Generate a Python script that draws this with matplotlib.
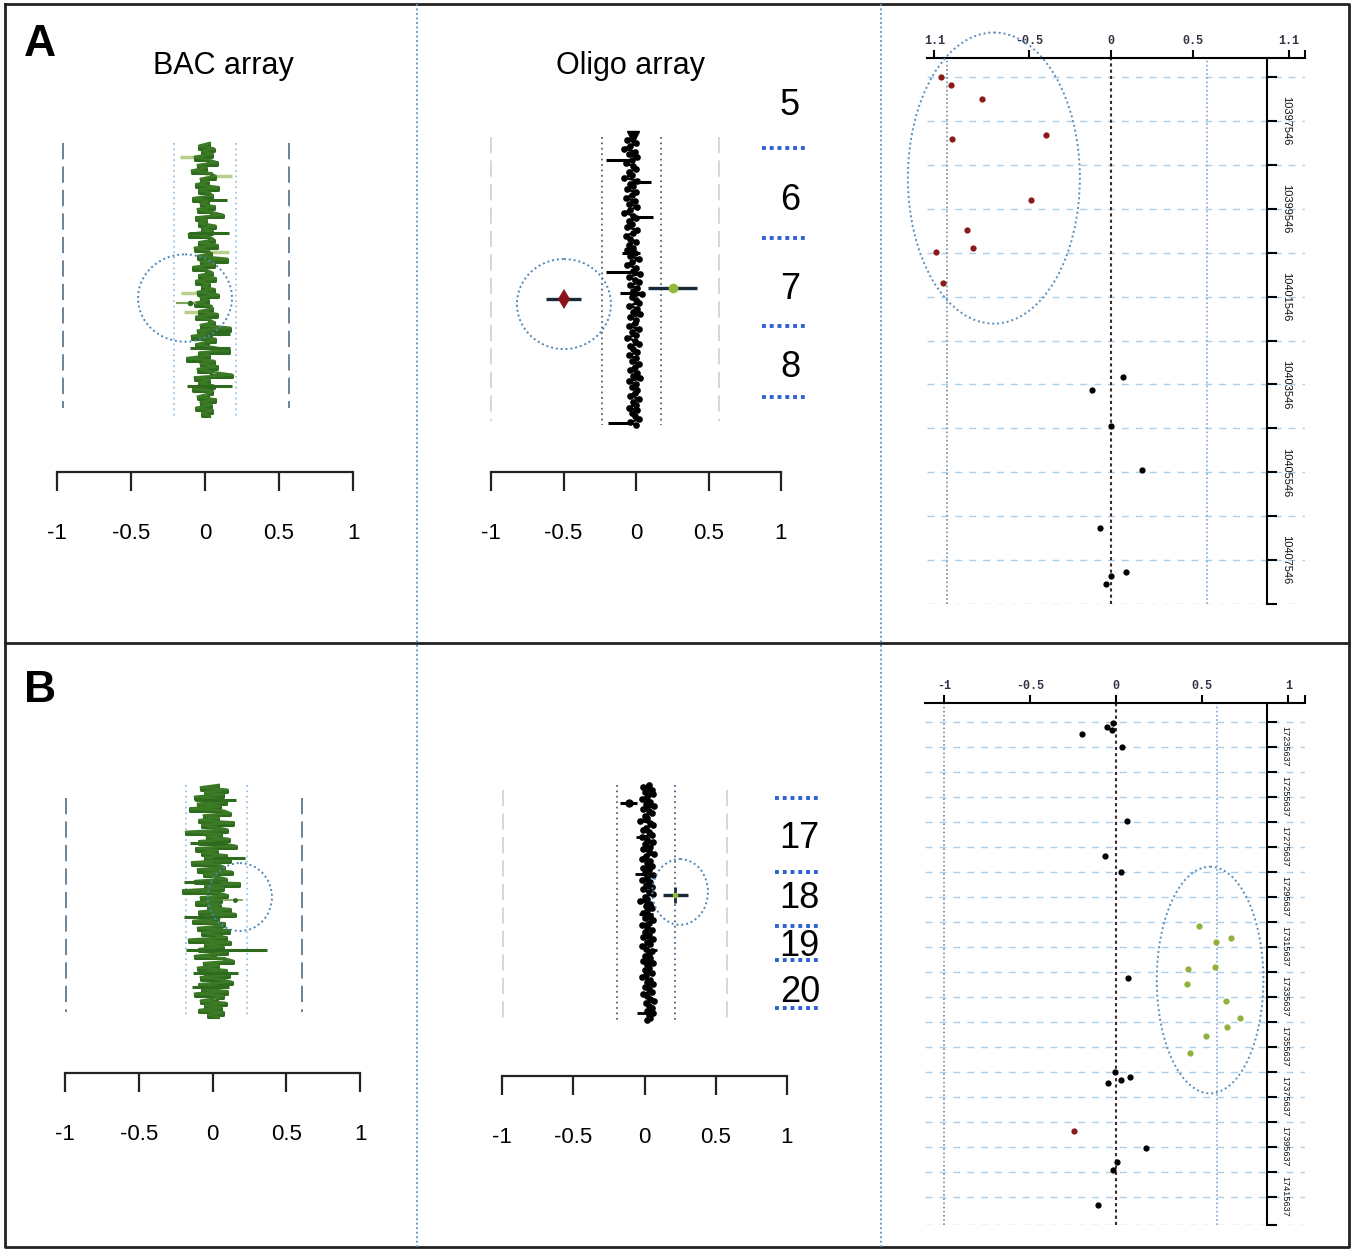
import matplotlib
matplotlib.use("Agg")
import matplotlib.pyplot as plt
from matplotlib.patches import Ellipse
from matplotlib.lines import Line2D
import numpy as np

plt.rcParams['font.family'] = ['Liberation Sans', 'DejaVu Sans']

# ---------------- data ----------------
scale_ticks = [-1, -0.5, 0, 0.5, 1]
scale_labels = ['-1', '-0.5', '0', '0.5', '1']

# BAC array log2 ratios (panel A), top to bottom
bac_a = [0.03, -0.04, 0.06, -0.02, 0.05, -0.07, 0.02, 0.08, -0.05, 0.01, -0.09, 0.04, 0.07, -0.03, 0.02,
         -0.06, 0.09, -0.04, 0.03, 0.05, -0.08, 0.02, -0.03, 0.06, -0.05, 0.04, 0.12, -0.06, 0.01, -0.04,
         0.07, -0.02, 0.05, -0.11, 0.03, 0.06, -0.04, 0.08, -0.07, 0.02, 0.04, -0.05, 0.15, -0.03, 0.06,
         -0.08, 0.01, 0.05, -0.04, 0.07, -0.06, 0.03, -0.02, 0.06, -0.05, 0.09, -0.03, 0.02, -0.07, 0.04,
         0.05, -0.04, 0.08, -0.06, 0.03, 0.06, -0.03, 0.17, -0.05, 0.04, -0.09, 0.07, 0.02, -0.06, 0.05,
         0.16, -0.04, 0.03, -0.12, 0.06, -0.03, 0.08, -0.05, 0.04, 0.18, -0.07, 0.03, -0.04, 0.06, -0.08,
         0.05, 0.02, -0.05, 0.07, -0.03, 0.04, -0.06, 0.05, -0.02, 0.03]
bac_a_bar_pos = [0.21, 0.33, 0.70, 0.75, 0.89]
bac_a_bar_lo = [0.02, -0.11, 0.0, -0.10, -0.12]
bac_a_bar_hi = [0.15, 0.16, 0.17, 0.17, 0.18]
bac_a_halo_pos = [0.05, 0.12, 0.40, 0.55, 0.62]
bac_a_halo_lo = [-0.17, 0.0, 0.0, -0.16, -0.14]
bac_a_halo_hi = [0.0, 0.18, 0.16, 0.0, 0.02]
bac_a_limits = [-0.96, 0.57]
bac_a_noise = [-0.21, 0.21]
bac_a_out = [-0.10, 0.586, -0.19, -0.07]      # value, position, bar low, bar high
bac_a_ring = [-0.135, 0.568, 0.635, 0.32]     # x, pos, width, height

# Oligo array log2 ratios (panel A)
oligo_a = [-0.02, -0.06, 0.0, -0.04, -0.08, -0.01, -0.05, 0.01, -0.03, -0.07, -0.02, 0.0, -0.05, -0.03,
           -0.08, 0.01, -0.04, -0.02, -0.06, 0.0, -0.03, -0.07, -0.01, -0.05, 0.01, -0.04, -0.08, -0.02,
           0.0, -0.05, -0.03, -0.06, 0.01, -0.02, -0.07, -0.04, 0.0, -0.05, -0.02, -0.06, -0.01, -0.04,
           0.02, -0.03, -0.06, 0.0, -0.02, 0.03, -0.05, -0.01, 0.02, -0.04, 0.01, -0.02, 0.04, -0.03,
           0.0, 0.02, -0.05, 0.01, -0.02, 0.03, -0.04, 0.0, -0.01, -0.05, 0.02, -0.03, 0.0, -0.06,
           -0.01, 0.02, -0.04, -0.02, 0.01, -0.05, 0.0, -0.03, 0.02, -0.01, -0.04, 0.01, -0.02, 0.03,
           -0.05, 0.0, -0.03, 0.01, -0.01, -0.04, 0.02, -0.02, 0.0, -0.05, 0.01, -0.03, -0.01, 0.02,
           -0.04, 0.0]
oligo_a_bar_pos = [0.08, 0.156, 0.278, 0.403, 0.469, 0.542, 0.993]
oligo_a_bar_lo = [-0.21, -0.03, -0.03, -0.10, -0.21, -0.11, -0.19]
oligo_a_bar_hi = [-0.03, 0.10, 0.12, 0.03, -0.03, 0.04, -0.05]
oligo_a_limits = [-1.0, 0.572]
oligo_a_noise = [-0.234, 0.172]
oligo_a_loss = [-0.50, 0.5625, -0.62, -0.38]
oligo_a_gain = [0.255, 0.524, 0.08, 0.42]
oligo_a_ring = [-0.497, 0.58, 0.648, 0.3125]
bands_a = ['5', '6', '7', '8']
bands_a_pos = [-0.111, 0.219, 0.531, 0.802]
bands_a_sep = [0.038, 0.351, 0.656, 0.903]

# BAC array log2 ratios (panel B)
bac_b = [0.04, -0.08, 0.10, -0.05, 0.07, -0.12, 0.03, 0.09, -0.10, 0.05, -0.15, 0.08, 0.12, -0.06, 0.04,
         -0.09, 0.14, -0.07, 0.02, 0.10, -0.18, 0.06, -0.04, 0.11, -0.09, 0.07, 0.16, -0.11, 0.03, -0.07,
         0.09, -0.05, 0.12, -0.14, 0.04, 0.08, -0.10, 0.13, -0.06, 0.02, 0.09, -0.12, 0.18, -0.05, 0.07,
         -0.20, 0.04, 0.10, -0.08, 0.06, -0.11, 0.05, -0.03, 0.12, -0.09, 0.15, -0.06, 0.04, -0.13, 0.08,
         0.06, -0.10, 0.11, -0.07, 0.03, 0.09, -0.16, 0.12, -0.05, 0.07, -0.09, 0.10, 0.02, -0.12, 0.08,
         0.14, -0.06, 0.04, -0.10, 0.09, -0.05, 0.11, -0.08, 0.06, 0.13, -0.09, 0.04, -0.07, 0.10, -0.12,
         0.07, 0.03, -0.08, 0.09, -0.05, 0.06, -0.09, 0.07, -0.03, 0.04]
bac_b_bar_pos = [0.065, 0.25, 0.315, 0.418, 0.569, 0.711, 0.81, 0.87]
bac_b_bar_lo = [-0.12, -0.15, 0.0, -0.19, -0.19, -0.18, -0.13, -0.14]
bac_b_bar_hi = [0.16, 0.10, 0.22, 0.05, 0.05, 0.37, 0.17, 0.11]
bac_b_limits = [-0.99, 0.607]
bac_b_noise = [-0.18, 0.234]
bac_b_out = [0.15, 0.497, 0.08, 0.20]
bac_b_ring = [0.186, 0.483, 0.434, 0.293]

# Oligo array log2 ratios (panel B)
oligo_b = [0.03, -0.01, 0.05, 0.0, 0.06, 0.02, -0.02, 0.04, 0.01, 0.07, -0.01, 0.03, 0.05, 0.0, 0.02,
           -0.03, 0.04, 0.06, 0.01, -0.01, 0.03, 0.05, -0.02, 0.02, 0.06, 0.0, 0.04, -0.01, 0.03, 0.07,
           0.01, -0.02, 0.04, 0.02, 0.05, -0.01, 0.03, 0.0, 0.06, 0.02, -0.02, 0.04, 0.01, 0.05, -0.01,
           0.03, 0.06, 0.0, 0.02, -0.03, 0.04, 0.01, 0.05, 0.02, -0.01, 0.04, 0.0, 0.06, 0.03, -0.02,
           0.02, 0.05, 0.0, 0.03, -0.01, 0.06, 0.02, 0.04, -0.02, 0.01, 0.05, 0.03, 0.0, 0.04, -0.01,
           0.06, 0.02, 0.03, 0.0, 0.05, 0.01, -0.02, 0.04, 0.02, 0.06, 0.0, 0.03, 0.05, -0.01, 0.02,
           0.04, 0.07, 0.01, 0.03, 0.05, 0.02, 0.06, 0.03, 0.04, 0.02]
oligo_b_bar_pos = [0.22, 0.38, 0.55, 0.70, 0.97]
oligo_b_bar_lo = [-0.06, -0.07, -0.04, 0.0, -0.05]
oligo_b_bar_hi = [0.03, 0.02, 0.06, 0.09, 0.04]
oligo_b_limits = [-0.99, 0.58]
oligo_b_noise = [-0.19, 0.214]
oligo_b_out = [-0.11, 0.077, -0.17, -0.05]
oligo_b_gain = [0.214, 0.468, 0.13, 0.305]
oligo_b_ring = [0.25, 0.455, 0.39, 0.28]
bands_b = ['17', '18', '19', '20']
bands_b_pos = [0.226, 0.481, 0.689, 0.881]
bands_b_sep = [0.055, 0.370, 0.600, 0.745, 0.949]

# Zoomed oligo probes, panel A (log2 ratio, genomic position)
a_loss_x = [-1.037, -0.976, -0.787, -0.970, -0.396, -0.488, -0.878, -0.841, -1.067, -1.030]
a_loss_y = [10396546, 10396728, 10397047, 10397958, 10397867, 10399348, 10400031,
            10400441, 10400532, 10401239]
a_norm_x = [0.073, -0.116, 0.0, 0.189, -0.067, 0.091, 0.0, -0.030]
a_norm_y = [10403380, 10403676, 10404496, 10405498, 10406819, 10407822, 10407912, 10408094]
a_ring = [-0.716, 10398847, 1.052, 6629]

# Zoomed oligo probes, panel B
b_norm_x = [-0.016, -0.050, -0.021, -0.199, 0.037, 0.064, -0.064, 0.029, 0.070, -0.006,
            -0.046, 0.029, 0.081, 0.174, 0.006, -0.017, -0.104]
b_norm_y = [17226037, 17227637, 17229077, 17230557, 17235877, 17265357, 17279357, 17285757,
            17328157, 17365757, 17370157, 17368957, 17367757, 17396157, 17401757, 17404957,
            17418957]
b_loss_x = [-0.244]
b_loss_y = [17389397]
b_gain_x = [0.483, 0.580, 0.667, 0.420, 0.576, 0.414, 0.638, 0.718, 0.644, 0.522, 0.431]
b_gain_y = [17307477, 17313757, 17312277, 17324677, 17323637, 17330557, 17337477, 17344037,
            17347877, 17351477, 17358037]
b_ring = [0.546, 17328957, 0.619, 90680]

# ---------------- figure ----------------
W, H = 1355, 1249
fig = plt.figure(figsize=(W / 100, H / 100), dpi=100)


def add_ax(x0, y0, x1, y1):
    return fig.add_axes([x0 / W, 1 - y1 / H, (x1 - x0) / W, (y1 - y0) / H])


def bare(ax):
    for s in ax.spines.values():
        s.set_visible(False)
    ax.set_xticks([])
    ax.set_yticks([])
    ax.patch.set_alpha(0)
    ax.set_xlim(-1, 1)
    ax.set_ylim(1, 0)


def scale_bar(x0, x1, y):
    ax = add_ax(x0, y, x1, y + 1)
    ax.set_xlim(-1, 1)
    for s in ['top', 'left', 'right']:
        ax.spines[s].set_visible(False)
    ax.spines['bottom'].set_linewidth(1.6)
    ax.spines['bottom'].set_color('#222222')
    ax.set_yticks([])
    ax.set_xticks(scale_ticks, scale_labels)
    ax.tick_params(axis='x', direction='out', length=14, width=1.6, color='#222222',
                   pad=23, labelsize=16)
    ax.patch.set_alpha(0)


def guides(ax, limits, noise, lim_color, noise_color, lim_span=(0, 1)):
    for v in limits:
        ax.plot([v, v], lim_span, color=lim_color, lw=1.3, ls=(0, (9, 4)), clip_on=False)
    for v in noise:
        ax.plot([v, v], [0, 1], color=noise_color, lw=1.3, ls=(0, (1, 2)), clip_on=False)


def ring(ax, r, color='#4f86b8'):
    ax.add_patch(Ellipse((r[0], r[1]), r[2], r[3], fill=False, ec=color, lw=1.4,
                         ls=(0, (1, 1.5)), clip_on=False, zorder=5))


def bac_trace(ax, vals):
    pos = np.linspace(0, 1, len(vals))
    ax.plot(vals, pos, drawstyle='steps-pre', color='#2f6b1e', lw=2.2, clip_on=False)
    ax.plot(vals, pos, color='#3d7a26', lw=1.8, clip_on=False)


def oligo_trace(ax, vals):
    pos = np.linspace(0, 1, len(vals))
    ax.plot(vals, pos, color='black', lw=1.8, marker='o', ms=4.8, mew=0, clip_on=False)


# ---- panel A, BAC array ----
ax = add_ax(57, 143, 353, 416)
bare(ax)
guides(ax, bac_a_limits, bac_a_noise, '#5f7890', '#9cc3e4', (0, 0.97))
ax.hlines(bac_a_halo_pos, bac_a_halo_lo, bac_a_halo_hi, color='#b9cf8e', lw=2.5)
bac_trace(ax, bac_a)
ax.hlines(bac_a_bar_pos, bac_a_bar_lo, bac_a_bar_hi, color='#2f6b1e', lw=2.2)
ax.plot([bac_a_out[2], bac_a_out[3]], [bac_a_out[1]] * 2, color='#7fa25a', lw=1.5)
ax.plot(bac_a_out[0], bac_a_out[1], 'o', color='#2f6b1e', ms=3)
ring(ax, bac_a_ring)
scale_bar(57, 353, 471)
fig.text(223 / W, 1 - 66 / H, 'BAC array', fontsize=22, ha='center', va='center')

# ---- panel A, oligo array ----
ax = add_ax(491, 137, 781, 425)
bare(ax)
guides(ax, oligo_a_limits, oligo_a_noise, '#cfd4da', '#4a6a85', (0, 0.986))
oligo_trace(ax, oligo_a)
ax.hlines(oligo_a_bar_pos, oligo_a_bar_lo, oligo_a_bar_hi, color='black', lw=2.2)
ax.plot(oligo_a[0], 0, 'v', color='black', ms=8, clip_on=False)
ax.hlines(oligo_a_loss[1], oligo_a_loss[2], oligo_a_loss[3], color='#1b2a38', lw=2.4)
ax.plot(oligo_a_loss[0], oligo_a_loss[1], 'd', color='#8b1418', ms=10, mew=0)
ax.hlines(oligo_a_gain[1], oligo_a_gain[2], oligo_a_gain[3], color='#1b2a38', lw=2.4)
ax.plot(oligo_a_gain[0], oligo_a_gain[1], 'o', color='#8fba3a', ms=7, mew=0)
ring(ax, oligo_a_ring)
for lab, p in zip(bands_a, bands_a_pos):
    ax.text(1.062, p, lab, fontsize=26, ha='center', va='center', clip_on=False)
for p in bands_a_sep:
    ax.plot([0.869, 1.186], [p, p], color='#2f62d0', lw=2.8, ls=(0, (1, 1)), clip_on=False)
scale_bar(491, 781, 471)
fig.text(631 / W, 1 - 66 / H, 'Oligo array', fontsize=22, ha='center', va='center')

# ---- panel B, BAC array ----
ax = add_ax(65, 785, 360, 1017)
bare(ax)
guides(ax, bac_b_limits, bac_b_noise, '#5f7890', '#9cc3e4', (0.056, 0.978))
bac_trace(ax, bac_b)
ax.hlines(bac_b_bar_pos, bac_b_bar_lo, bac_b_bar_hi, color='#2f6b1e', lw=2.2)
ax.plot([bac_b_out[2], bac_b_out[3]], [bac_b_out[1]] * 2, color='#7fa25a', lw=1.3)
ax.plot(bac_b_out[0], bac_b_out[1], 'o', color='#2f6b1e', ms=2.5)
ring(ax, bac_b_ring)
scale_bar(65, 360, 1072)

# ---- panel B, oligo array ----
ax = add_ax(502, 785, 787, 1020)
bare(ax)
guides(ax, oligo_b_limits, oligo_b_noise, '#cfd4da', '#4a6a85', (0.02, 1))
oligo_trace(ax, oligo_b)
ax.hlines(oligo_b_bar_pos, oligo_b_bar_lo, oligo_b_bar_hi, color='black', lw=2.0)
ax.hlines(oligo_b_out[1], oligo_b_out[2], oligo_b_out[3], color='black', lw=2.2)
ax.plot(oligo_b_out[0], oligo_b_out[1], 'o', color='black', ms=5)
ax.hlines(oligo_b_gain[1], oligo_b_gain[2], oligo_b_gain[3], color='#1b2a38', lw=2.4)
ax.plot(oligo_b_gain[0], oligo_b_gain[1], '|', color='#1b2a38', ms=12, mew=2)
ax.plot(oligo_b_gain[0], oligo_b_gain[1], 'o', color='#8fba3a', ms=4, mew=0)
ring(ax, oligo_b_ring)
for lab, p in zip(bands_b, bands_b_pos):
    ax.text(1.09, p, lab, fontsize=26, ha='center', va='center', clip_on=False)
for p in bands_b_sep:
    ax.plot([0.916, 1.218], [p, p], color='#2f62d0', lw=2.8, ls=(0, (1, 1)), clip_on=False)
scale_bar(502, 787, 1075)


# ---- zoomed probe plots ----
def probe_panel(box, xlim, ylim, spine_x, xticks, xlabels, yticks, ylabels, ysize):
    ax = add_ax(*box)
    ax.set_xlim(*xlim)
    ax.set_ylim(*ylim)
    ax.patch.set_alpha(0)
    ax.spines['left'].set_visible(False)
    ax.spines['bottom'].set_visible(False)
    ax.spines['top'].set_linewidth(1.5)
    ax.spines['right'].set_linewidth(1.5)
    ax.spines['right'].set_position(('data', spine_x))
    ax.xaxis.tick_top()
    ax.yaxis.tick_right()
    ax.set_xticks(xticks, xlabels)
    ax.set_yticks(yticks, ylabels)
    ax.tick_params(axis='x', direction='out', length=6, width=1.5, pad=2, labelsize=8.5)
    ax.tick_params(axis='y', direction='out', length=7, width=1.5, pad=3, labelsize=ysize,
                   labelrotation=-90)
    for t in ax.get_xticklabels():
        t.set_family(['Liberation Mono', 'DejaVu Sans Mono'])
        t.set_weight('bold')
        t.set_color('#333344')
    for t in ax.get_yticklabels():
        t.set_family(['Liberation Sans', 'DejaVu Sans'])
        t.set_color('#111111')
        t.set_verticalalignment('center')
    for y in yticks:
        ax.axhline(y, color='#acd0ea', lw=1, ls=(0, (5, 5)), zorder=0)
    ax.axvline(0, color='#3c2a2a', lw=1.5, ls=(0, (1.5, 1.5)), zorder=1)
    ax.axvline(-1, color='#6f8fac', lw=1.2, ls=(0, (1, 1.5)), zorder=1)
    ax.axvline(0.585, color='#7fa9d3', lw=1.2, ls=(0, (1, 1.5)), zorder=1)
    return ax


a_yticks = [10396546 + 1000 * k for k in range(13)]
a_ylabels = [str(t) if k % 2 == 1 else '' for k, t in enumerate(a_yticks)]
ax = probe_panel((927, 57.7, 1305, 604), (-1.125, 1.187), (10408546, 10396106), 0.954,
                 [-1.08, -0.5, 0, 0.5, 1.09, 1.187], ['1.1', '-0.5', '0', '0.5', '1.1', ''],
                 a_yticks, a_ylabels, 8)
ax.plot(a_loss_x, a_loss_y, 'o', color='#8b1a1a', ms=4.5, mew=0, zorder=3)
ax.plot(a_norm_x, a_norm_y, 'o', color='black', ms=4.5, mew=0, zorder=3)
ring(ax, a_ring, '#5b8db8')

b_yticks = [17225637 + 10000 * k for k in range(20)]
b_ylabels = [str(t) if k % 2 == 1 else '' for k, t in enumerate(b_yticks)]
ax = probe_panel((925, 703, 1305, 1225), (-1.109, 1.097), (17426957, 17218157), 0.875,
                 [-1, -0.5, 0, 0.5, 1, 1.097], ['-1', '-0.5', '0', '0.5', '1', ''],
                 b_yticks + [17426957], b_ylabels + [''], 6.6)
ax.plot(b_norm_x, b_norm_y, 'o', color='black', ms=4.5, mew=0, zorder=3)
ax.plot(b_loss_x, b_loss_y, 'o', color='#8b1a1a', ms=4.5, mew=0, zorder=3)
ax.plot(b_gain_x, b_gain_y, 'o', color='#8fb33a', ms=4.5, mew=0, zorder=3)
ring(ax, b_ring, '#5b8db8')

# ---- panel letters, frame, separators ----
fig.text(40 / W, 1 - 45 / H, 'A', fontsize=32, fontweight='bold', ha='center', va='center')
fig.text(40 / W, 1 - 690 / H, 'B', fontsize=32, fontweight='bold', ha='center', va='center')

frame = dict(color='#222222', lw=2, transform=fig.transFigure)
fig.add_artist(Line2D([5 / W, 1349 / W, 1349 / W, 5 / W, 5 / W],
                      [1 - 4 / H, 1 - 4 / H, 1 - 1247 / H, 1 - 1247 / H, 1 - 4 / H], **frame))
fig.add_artist(Line2D([5 / W, 1349 / W], [1 - 643 / H, 1 - 643 / H], **frame))
for x in [417, 881]:
    fig.add_artist(Line2D([x / W, x / W], [1 - 4 / H, 1 - 1247 / H], color='#5b8ec4', lw=1.3,
                          ls=(0, (1, 1.5)), transform=fig.transFigure))

fig.savefig('out.png', dpi=100)
